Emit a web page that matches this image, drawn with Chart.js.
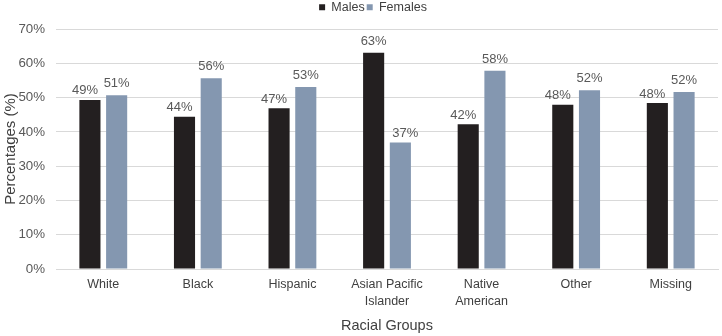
<!DOCTYPE html>
<html><head><meta charset="utf-8">
<script src="https://cdn.jsdelivr.net/npm/chart.js@4"></script>
<style>html,body{margin:0;padding:0;background:#fff}#w{width:722px;height:336px}</style>
</head><body><div id="w"><canvas id="c"></canvas></div>
<script>
const categories = ["White","Black","Hispanic",["Asian Pacific","Islander"],["Native","American"],"Other","Missing"];
const males = [49.3,44.4,46.9,63.1,42.2,47.9,48.4];
const females = [50.7,55.6,53.1,36.9,57.8,52.1,51.6];
const yTicks = [0,10,20,30,40,50,60,70];

// value labels: the shorter bar of each pair has its label nudged outward
const labelPlugin = {
  id:'barLabels',
  afterDatasetsDraw(chart){
    const ctx = chart.ctx;
    ctx.save();
    ctx.font = '13px "Liberation Sans", Arial, sans-serif';
    ctx.fillStyle = '#595959';
    ctx.textAlign = 'center';
    ctx.textBaseline = 'alphabetic';
    const ds = chart.data.datasets;
    ds.forEach((d,i)=>{
      const other = ds[1-i].data;
      chart.getDatasetMeta(i).data.forEach((el,j)=>{
        const shorter = d.data[j] < other[j];
        const dx = shorter ? (i===0 ? -5 : 5) : 0;
        const dy = shorter ? 5.5 : 8;
        ctx.fillText(Math.round(d.data[j])+'%', el.x+dx, el.y-dy);
      });
    });
    ctx.restore();
  }
};
const legendTweak = {
  id:'legendTweak',
  beforeInit(chart){
    const lg = chart.legend;
    const fit = lg.fit;
    lg.fit = function(){ fit.call(lg); this.height += 4.5; };
    const draw = lg.draw;
    lg.draw = function(){ const c = chart.ctx; c.save(); c.translate(13,-1); draw.call(lg); c.restore(); };
  }
};

Chart.defaults.font.family = '"Liberation Sans", Arial, sans-serif';
new Chart(document.getElementById('c'),{
  type:'bar',
  data:{labels:categories,datasets:[
    {label:'Males',data:males,backgroundColor:'#231f20',categoryPercentage:0.565,barPercentage:0.79},
    {label:'Females',data:females,backgroundColor:'#8497b0',categoryPercentage:0.565,barPercentage:0.79}
  ]},
  options:{
    responsive:true,maintainAspectRatio:false,animation:false,
    layout:{padding:{left:2,right:4,top:0,bottom:0}},
    plugins:{
      legend:{position:'top',labels:{boxWidth:6,boxHeight:6,padding:2,color:'#404040',font:{size:12.5}}},
      tooltip:{enabled:false}
    },
    scales:{
      x:{grid:{display:false,drawTicks:false},border:{color:'#d9d9d9',width:1},
         afterFit(s){ s.height = 67; },
         ticks:{color:'#404040',font:{size:12.5,lineHeight:1.36},padding:7,maxRotation:0,autoSkip:false},
         title:{display:true,text:'Racial Groups',color:'#404040',font:{size:14.5},padding:{top:7,bottom:1}}},
      y:{min:0,max:70,
         afterBuildTicks(s){s.ticks = yTicks.map(v=>({value:v}));},
         afterFit(s){ s.width = 54; },
         grid:{color:'#d9d9d9',drawTicks:false},border:{display:false},
         ticks:{color:'#595959',font:{size:13.3},padding:11,callback:v=>v+'%'},
         title:{display:true,text:'Percentages (%)',color:'#404040',font:{size:15},padding:{top:0,bottom:0}}}
    }
  },
  plugins:[labelPlugin,legendTweak]
});
</script></body></html>
